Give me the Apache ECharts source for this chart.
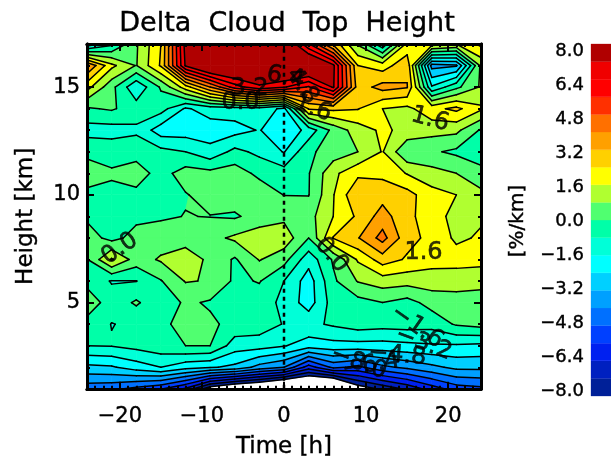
<!DOCTYPE html>
<html><head><meta charset="utf-8">
<style>html,body{margin:0;padding:0;background:#fff;overflow:hidden}#c{width:611px;height:464px}</style>
<script src="https://cdn.jsdelivr.net/npm/echarts@6/dist/echarts.min.js"></script>
</head><body><div id="c"></div>
<script>
var times=[-24,-21,-18,-15,-12,-9,-6,-3,0,3,6,9,12,15,18,21,24];
var heights=[17,16,15,14,13,12,11,10,9,8,7,6,5,4,3,2,1];
var row17=[-2.2,-1.0,0.7,2.4,7.5,9,9,9,8.5,5.7,3.0,0.7,-1.4,1.8,2.0,1.6,2.6];
var row16=[4.0,1.8,0.75,2.5,7.3,9,9,9,9,9,7.4,2.4,2.0,3.0,-3.5,-3.3,1.0];
var row15=[1.9,0.25,-1.45,0.1,2.0,4.0,6.0,7.0,6.5,5.5,7.3,2.8,3.5,3.25,-1.5,-0.2,0.9];
var row14=[-0.1,0.1,-0.4,-0.45,-1.7,-1.25,-1.2,-1.1,-1.8,2.5,2.6,2.45,1.6,1.39,2.15,2.6,1.73];
var row13=[-1.15,-1.15,-0.95,-2.03,-2.0,-2.0,-1.9,-1.55,-2.3,-1.3,0.25,1.2,1.75,1.37,1.1,1.0,-0.1];
var row12=[-0.1,-0.3,-0.3,-0.55,-0.8,-1.35,-0.57,-1.0,-1.65,-0.15,0.35,0.8,1.65,0.08,0.12,-0.17,-0.5];
var row11=[0.2,0.1,0.36,-0.3,0.35,0.25,0.4,-0.2,-0.42,-0.05,1.41,2.2,2.2,1.55,1.1,0.8,0.3];
var row10=[-0.1,-0.2,-0.2,-0.2,-0.05,0.3,0.4,0.5,-0.02,-0.03,1.55,3.15,2.9,2.7,1.9,1.6,1.0];
var row9=[-0.15,-0.2,-0.2,-0.1,0.02,-0.02,-0.1,0.3,0.6,0.5,1.6,2.55,3.55,2.6,2.0,1.3,1.5];
var row8=[0.4,-0.27,0.3,0.4,0.4,0.55,0.95,1.3,1.3,0.0,2.45,3.15,4.3,2.68,2.17,1.45,1.7];
var row7=[-0.05,1.7,0.43,0.9,1.3,0.6,-0.1,0.85,0.3,-1.3,0.1,1.7,2.8,2.3,1.9,1.95,1.9];
var row6=[-0.3,-0.85,-0.82,-0.05,0.85,0.75,-0.15,0.05,-0.8,-2.0,-0.15,0.85,1.2,1.1,1.2,1.1,1.0];
var row5=[0.6,-0.5,0.12,-0.6,0.15,-0.1,-0.3,-0.4,-1.0,-2.0,-0.42,-0.3,0.0,-0.3,0.3,0.5,0.5];
var row4=[-0.35,-0.82,-0.68,-0.2,0.3,0.15,-0.25,-0.35,-0.85,-1.0,-0.68,-0.4,-0.5,-0.45,-0.5,0.1,0.3];
var row3=[-0.8,-0.75,-0.55,-0.3,0.0,0.0,-1.2,-1.25,-1.55,-2.0,-1.9,-1.9,-1.9,-1.8,-1.7,-1.7,-1.8];
var row2=[-2.6,-2.5,-2.0,-1.6,-2.1,-2.3,-2.6,-3.5,-4.0,-6.0,-4.6,-5.0,-4.2,-3.8,-3.4,-3.0,-3.0];
var row1=[-4.5,-4.6,-5.0,-5.5,-6.5,-8.6,-9.5,-10.0,-11.0,-11.0,-11.4,-8.6,-7.8,-7.0,-6.0,-5.2,-5.0];
var grid=[row17,row16,row15,row14,row13,row12,row11,row10,row9,row8,row7,row6,row5,row4,row3,row2,row1];

var bandLows=[-8,-7.2,-6.4,-5.6,-4.8,-4,-3.2,-2.4,-1.6,-0.8,0,0.8,1.6,2.4,3.2,4,4.8,5.6,6.4,7.2];
var bandColors=['#002098','#0020c0','#0020f0','#0040ff','#0070ff','#00a0ff','#00d0ff','#00ffff','#00ffd8','#00ffa8','#50ff70','#b0ff30','#ffff00','#ffd000','#ffa000','#ff7000','#ff3000','#ff0000','#f00000','#b00000'];
var contourLevels=[-8,-7.2,-6.4,-5.6,-4.8,-4,-3.2,-2.4,-1.6,-0.8,0,0.8,1.6,2.4,3.2,4,4.8,5.6,6.4,7.2];
var barTicks=[-8,-6.4,-4.8,-3.2,-1.6,0,1.6,3.2,4.8,6.4,8];
var xMajor=[-20,-10,0,10,20];
var yMajor=[5,10,15];
var xMinor=[-24,-23,-22,-21,-20,-19,-18,-17,-16,-15,-14,-13,-12,-11,-10,-9,-8,-7,-6,-5,-4,-3,-2,-1,0,1,2,3,4,5,6,7,8,9,10,11,12,13,14,15,16,17,18,19,20,21,22,23,24];
var yMinor=[2,3,4,5,6,7,8,9,10,11,12,13,14,15,16];
// contour labels: time, height, text, rotation
var contourLabels=[
 [-5.3,14.25,'0.0',0],[-4.2,14.9,'3.2',0],[0.2,15.45,'6.4',-10],[2.2,15.05,'4.8',-55],[3.5,14.0,'1.6',-20],
 [17.8,13.5,'1.6',-15],[-20,7.5,'0.0',35],[5.8,7.2,'0.0',-50],[17,7.3,'1.6',0],
 [16.2,3.88,'\u22121.6',-35],[17,3.1,'\u22123.2',-20],[13.8,2.55,'\u22124.8',-5],[9.1,2.2,'\u22128.0',-20],[10.6,2.1,'\u22126.4',10]
];

var FONT='"DejaVu Sans"';
var INK={textBorderColor:'#000',textBorderWidth:0.4};
var cells=[];
for(var j=0;j<heights.length-1;j++){for(var i=0;i<times.length-1;i++){cells.push([times[i],heights[j],i,j]);}}

function corners(api){
  var i=api.value(2),j=api.value(3);
  var q=[[i,j],[i+1,j],[i+1,j+1],[i,j+1]];
  return q.map(function(c){var p=api.coord([times[c[0]],heights[c[1]]]);return [p[0],p[1],grid[c[1]][c[0]]];});
}
function clip(poly,level,above){
  var out=[];
  for(var n=0;n<poly.length;n++){
    var a=poly[n],b=poly[(n+1)%poly.length];
    var ia=above?a[2]>=level:a[2]<=level, ib=above?b[2]>=level:b[2]<=level;
    if(ia)out.push(a);
    if(ia!==ib){var f=(level-a[2])/(b[2]-a[2]);out.push([a[0]+(b[0]-a[0])*f,a[1]+(b[1]-a[1])*f,level]);}
  }
  return out;
}
function renderFill(params,api){
  var q=corners(api),kids=[];
  for(var k=0;k<bandLows.length;k++){
    var p=clip(q,bandLows[k],true);
    if(k<bandLows.length-1&&p.length)p=clip(p,bandLows[k+1],false);
    if(p.length>2){
      kids.push({type:'polygon',shape:{points:p.map(function(v){return [v[0],v[1]];})},style:{fill:bandColors[k],stroke:bandColors[k],lineWidth:0.7}});
    }
  }
  return {type:'group',children:kids};
}
function renderLines(params,api){
  var q=corners(api),kids=[];
  contourLevels.forEach(function(L){
    var pts=[];
    for(var n=0;n<4;n++){
      var a=q[n],b=q[(n+1)%4];
      var va=a[2]>=L,vb=b[2]>=L;
      if(va!==vb){var f=(L-a[2])/(b[2]-a[2]);pts.push([a[0]+(b[0]-a[0])*f,a[1]+(b[1]-a[1])*f]);}
    }
    for(var m=0;m+1<pts.length;m+=2){
      kids.push({type:'line',shape:{x1:pts[m][0],y1:pts[m][1],x2:pts[m+1][0],y2:pts[m+1][1]},style:{stroke:'#000',lineWidth:1.5,lineCap:'round'}});
    }
  });
  return {type:'group',children:kids};
}
function renderBar(params,api){
  var lo=api.value(0),k=api.value(2);
  var a=api.coord([0,lo]),b=api.coord([1,lo+0.8]);
  return {type:'rect',shape:{x:a[0],y:b[1],width:b[0]-a[0],height:a[1]-b[1]},style:{fill:bandColors[k],stroke:bandColors[k],lineWidth:0.3}};
}
var tickTxt=function(v){return String(v).replace('-','\u2212');};
var frame={onZero:false,lineStyle:{color:'#000',width:3}};
function xAx(pos,vals,len,label,name){
  return {type:'value',gridIndex:0,min:-24,max:24,position:pos,z:6,splitLine:{show:false},axisLine:frame,
    axisTick:{inside:true,length:len,customValues:vals,lineStyle:{color:'#000',width:2}},
    axisLabel:label?Object.assign({show:true,customValues:xMajor,formatter:tickTxt,fontFamily:FONT,fontSize:21,color:'#000',margin:17},INK):{show:false},
    name:name||'',nameLocation:'middle',nameGap:47,nameTextStyle:Object.assign({fontFamily:FONT,fontSize:23,color:'#000'},INK)};
}
function yAx(pos,vals,len,label,name){
  return {type:'value',gridIndex:0,min:1,max:17,position:pos,z:6,splitLine:{show:false},axisLine:frame,
    axisTick:{inside:true,length:len,customValues:vals,lineStyle:{color:'#000',width:2}},
    axisLabel:label?Object.assign({show:true,customValues:yMajor,fontFamily:FONT,fontSize:21,color:'#000',margin:7},INK):{show:false},
    name:name||'',nameLocation:'middle',nameGap:49,nameRotate:90,nameTextStyle:Object.assign({fontFamily:FONT,fontSize:23,color:'#000'},INK)};
}
var option={
  animation:false,backgroundColor:'#fff',
  title:{text:'Delta  Cloud  Top  Height',left:282,top:5,textAlign:'center',textStyle:Object.assign({fontFamily:FONT,fontSize:27,fontWeight:'normal',color:'#000'},INK)},
  grid:[
    {left:87,top:44,width:394,height:348},
    {left:591,top:44,width:24,height:352},
    {left:591,top:51,width:24,height:340}
  ],
  xAxis:[xAx('bottom',xMajor,7,true,'Time [h]'),xAx('top',xMajor,7,false),xAx('bottom',xMinor,3,false),xAx('top',xMinor,3,false),
    {type:'value',gridIndex:1,min:0,max:1,show:false},{type:'value',gridIndex:2,min:0,max:1,show:false}],
  yAxis:[yAx('left',yMajor,7,true,'Height [km]'),yAx('right',yMajor,7,false),yAx('left',yMinor,3,false),yAx('right',yMinor,3,false),
    {type:'value',gridIndex:1,min:-8,max:8,show:false},
    {type:'value',gridIndex:2,min:-8,max:8,position:'left',splitLine:{show:false},axisLine:{show:false},axisTick:{show:false},
     axisLabel:Object.assign({customValues:barTicks,margin:7,fontFamily:FONT,fontSize:18,color:'#000',formatter:function(v){return v.toFixed(1).replace('-','\u2212');}},INK),
     name:'[%/km]',nameLocation:'middle',nameGap:63,nameRotate:90,nameTextStyle:Object.assign({fontFamily:FONT,fontSize:20,color:'#000'},INK)}],
  series:[
    {type:'custom',xAxisIndex:0,yAxisIndex:0,data:cells,encode:{x:0,y:1},renderItem:renderFill,z:1,silent:true,clip:true},
    {type:'custom',xAxisIndex:0,yAxisIndex:0,data:cells,encode:{x:0,y:1},renderItem:renderLines,z:2,silent:true,clip:true},
    {type:'line',xAxisIndex:0,yAxisIndex:0,data:[[0,1],[0,17]],symbol:'none',z:3,silent:true,lineStyle:{color:'#000',width:2.5,type:[4,4]}},
    {type:'scatter',xAxisIndex:0,yAxisIndex:0,symbolSize:0,z:4,silent:true,
      data:contourLabels.map(function(l){return {value:[l[0],l[1]],label:{show:true,position:'inside',formatter:l[2],rotate:l[3],fontFamily:FONT,fontSize:24,color:'#000',textBorderColor:'#000',textBorderWidth:0.6}};})},
    {type:'custom',xAxisIndex:4,yAxisIndex:4,data:bandLows.map(function(v,k){return [v,0,k];}),encode:{x:1,y:0},renderItem:renderBar,silent:true}
  ]
};
echarts.init(document.getElementById('c'),null,{renderer:'canvas'}).setOption(option);
</script></body></html>
